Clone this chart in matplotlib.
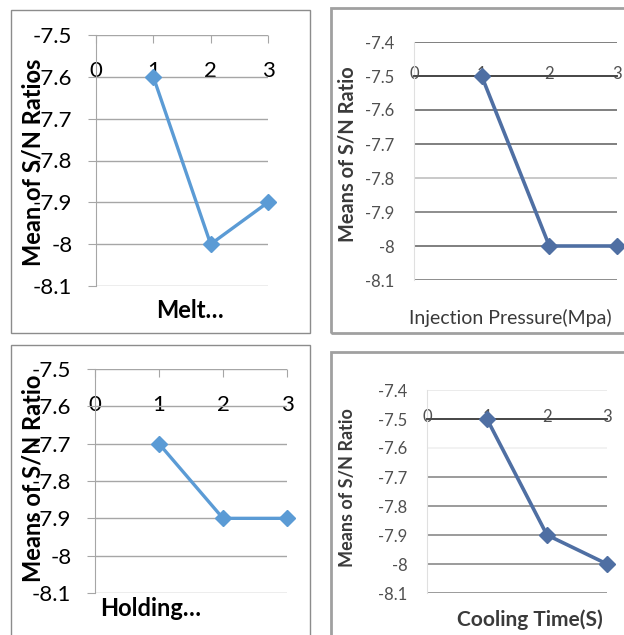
import numpy as np
import matplotlib.pyplot as plt
from matplotlib.patches import Rectangle
from matplotlib.ticker import FuncFormatter

plt.rcParams['font.family'] = ['Lato', 'DejaVu Sans']

# factor levels and mean S/N ratios
levels = [1, 2, 3]
melt_temp = [-7.6, -8.0, -7.9]
inj_pressure = [-7.5, -8.0, -8.0]
holding = [-7.7, -7.9, -7.9]
cooling = [-7.5, -7.9, -8.0]

xticks = [0, 1, 2, 3]
yticks_a = [-8.1, -8.0, -7.9, -7.8, -7.7, -7.6, -7.5]
yticks_b = [-8.1, -8.0, -7.9, -7.8, -7.7, -7.6, -7.5, -7.4]

W, H = 624, 635
fig = plt.figure(figsize=(W / 100, H / 100), dpi=100)


def px_box(x0, y0, x1, y1):
    return [x0 / W, 1 - y1 / H, (x1 - x0) / W, (y1 - y0) / H]


def frame(x0, y0, x1, y1, color, lw):
    fig.add_artist(Rectangle((x0 / W, 1 - y1 / H), (x1 - x0) / W, (y1 - y0) / H,
                             transform=fig.transFigure, fill=False,
                             edgecolor=color, linewidth=lw))


def ftext(x, y, s, **kw):
    fig.text(x / W, 1 - y / H, s, **kw)


fmt = FuncFormatter(lambda v, p: f"{v:g}")


def excel_new(box, yvals, ylab, xlab, ylab_pos, xlab_pos, xlab_ha):
    # the clean (Excel 2013 look) panels on the left
    ax = fig.add_axes(px_box(*box))
    ax.plot(levels, yvals, color='#5B9BD5', lw=2.4, marker='D', ms=8, clip_on=False, zorder=3)
    ax.set_xlim(0, 3)
    ax.set_ylim(-8.1, -7.5)
    ax.set_xticks(xticks)
    ax.set_yticks(yticks_a)
    ax.yaxis.set_major_formatter(fmt)
    ax.grid(axis='y', color='#A6A6A6', lw=1)
    for s in ['top', 'right', 'bottom']:
        ax.spines[s].set_visible(False)
    ax.spines['left'].set_color('#A6A6A6')
    ax.tick_params(axis='y', direction='out', length=6, color='#A6A6A6',
                   labelsize=16, pad=11, labelcolor='black')
    ax.tick_params(axis='x', bottom=False, labelbottom=False, top=True, labeltop=True,
                   direction='in', length=6, color='#A6A6A6', labelsize=16, pad=-33)
    ftext(*ylab_pos, ylab, rotation=90, ha='center', va='center', fontsize=17, fontweight='bold')
    ftext(*xlab_pos, xlab, ha=xlab_ha, va='center', fontsize=17, fontweight='bold')
    return ax


def excel_old(box, yvals, ylab, xlab, ylab_pos, ylab_size, xlab_pos, xlab_size, xbold, grid_cols):
    # the greyish scanned panels on the right
    ax = fig.add_axes(px_box(*box))
    ax.plot(levels, yvals, color='#4F6FA3', lw=2.6, marker='D', ms=8, clip_on=False, zorder=3)
    ax.set_xlim(0, 3)
    ax.set_ylim(-8.1, -7.4)
    ax.set_xticks(xticks)
    ax.set_yticks(yticks_b)
    ax.yaxis.set_major_formatter(fmt)
    ax.grid(axis='y', lw=1.2)
    for gl, c in zip(ax.get_ygridlines(), grid_cols):
        gl.set_color(c)
    for s in ['top', 'right']:
        ax.spines[s].set_visible(False)
    ax.spines['left'].set_color('#E0E0E0')
    ax.spines['bottom'].set_position(('data', -7.5))
    ax.spines['bottom'].set_color('#4A4A4A')
    ax.spines['bottom'].set_linewidth(1.4)
    ax.tick_params(axis='y', length=0, labelsize=12, pad=14, labelcolor='#505050')
    ax.tick_params(axis='x', length=0, labelsize=12, pad=-7, labelcolor='#505050')
    ftext(*ylab_pos, ylab, rotation=90, ha='center', va='center', fontsize=ylab_size,
          fontweight='bold', color='#3A3A3A')
    ftext(*xlab_pos, xlab, ha='left', va='center', fontsize=xlab_size,
          fontweight='bold' if xbold else 'normal', color='#3A3A3A')
    return ax


# panel frames
frame(11, 10, 310, 333, '#8C8C8C', 1.0)
frame(11, 345, 310, 645, '#8C8C8C', 1.0)
frame(331, 8, 640, 333, '#A0A0A0', 2.0)
frame(331, 352, 640, 645, '#A0A0A0', 2.0)

excel_new((96, 35, 268, 286), melt_temp, 'Mean of S/N Ratios', 'Melt…',
          (33, 162), (190, 310), 'center')
excel_new((95, 369, 287, 593), holding, 'Means of S/N Ratio', 'Holding…',
          (33, 478), (100, 608), 'left')

excel_old((414, 42, 617, 280), inj_pressure, 'Means of S/N Ratio', 'Injection Pressure(Mpa)',
          (348, 154), 14.4, (409, 318), 14, False,
          ['#7A7A7A', '#6A6A6A', '#7A7A7A', '#C0C0C0', '#6A6A6A', '#6A6A6A', '#4A4A4A', '#6A6A6A'])
excel_old((427, 390, 607, 593), cooling, 'Means of S/N Ratio', 'Cooling Time(S)',
          (348, 488), 13, (457, 620), 15, True,
          ['#8A8A8A', '#8A8A8A', '#8A8A8A', '#8A8A8A', '#8A8A8A', '#F0F0F0', '#4A4A4A', '#E8E8E8'])

fig.savefig('out.png', dpi=100)
